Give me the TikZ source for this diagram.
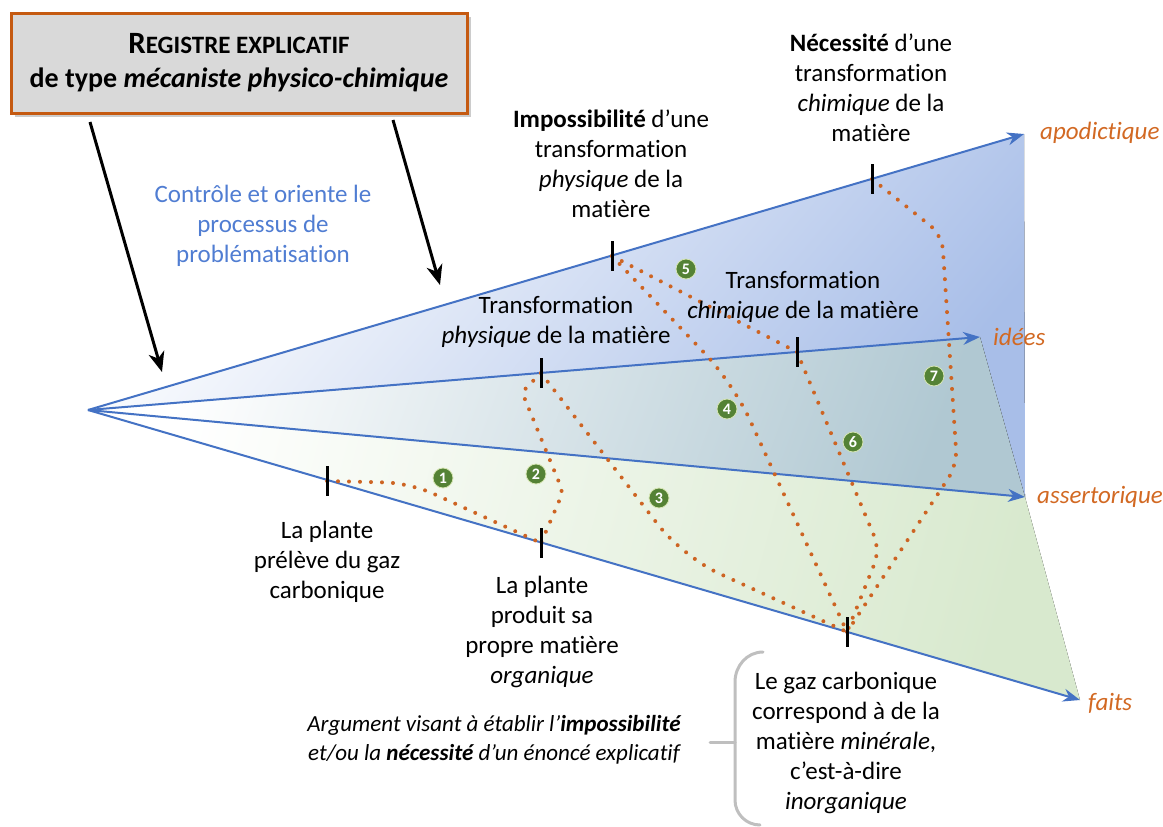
\documentclass[tikz,border=0pt]{standalone}
\usepackage{fontspec}
\setmainfont{Carlito}[Ligatures={TeX,NoCommon}]
\usetikzlibrary{arrows.meta,shadows,calc}
\definecolor{rayblue}{RGB}{68,114,196}
\definecolor{lblorange}{RGB}{210,105,35}
\definecolor{dotorange}{RGB}{205,100,35}
\definecolor{numgreen}{RGB}{84,130,53}
\definecolor{numrim}{RGB}{215,230,180}
\definecolor{boxorange}{RGB}{197,90,17}
\definecolor{boxgray}{RGB}{217,217,217}
\definecolor{shadeblue}{RGB}{168,190,232}
\definecolor{shadeteal}{RGB}{176,200,210}
\definecolor{shadegreen}{RGB}{216,233,206}
\definecolor{ctrlblue}{RGB}{80,125,210}
\definecolor{bracegray}{RGB}{191,191,191}
\tikzset{
  ray/.style={draw=rayblue, line width=2pt, -{Stealth[length=17pt,width=13pt]}},
  tickmark/.style={line width=3pt, black},
  dotpath/.style={dotorange, line width=4pt, line cap=round, dash pattern=on 0pt off 11pt},
  num/.style={circle, fill=numgreen, draw=numrim, line width=0.8pt, minimum size=20pt, inner sep=0pt,
    text=white, font=\bfseries\fontsize{16}{16}\selectfont},
  txt/.style={align=center, inner sep=0pt, font=\fontsize{25}{30}\selectfont},
  axlabel/.style={anchor=west, inner sep=0pt, text=lblorange, font=\fontsize{25}{28}\selectfont\itshape},
  bigarrow/.style={line width=3pt, black, -{Stealth[length=20pt,width=16pt,inset=6pt]}},
  bracestyle/.style={draw=bracegray, line width=3pt, line cap=round},
}
\begin{document}
\begin{tikzpicture}[x=1pt,y=-1pt]
\useasboundingbox (0,0) rectangle (1163,827);
% rays origin and tips
\coordinate (O) at (88,410);
\coordinate (Ap) at (1024,134);
\coordinate (Id) at (980,337);
\coordinate (As) at (1025,497);
\coordinate (Fa) at (1080,700);
% shaded areas
\fill[top color=white, bottom color=shadeblue, shading angle=50] (O) -- (Ap) -- (As) -- (Id) -- cycle;
\fill[top color=white, bottom color=shadeteal, shading angle=70] (O) -- (Id) -- (As) -- cycle;
\fill[top color=white, bottom color=shadegreen, shading angle=75] (O) -- (As) -- (Fa) -- cycle;
% rays
\draw[ray] (O) -- (Ap);
\draw[ray] (O) -- (Id);
\draw[ray] (O) -- (As);
\draw[ray] (O) -- (Fa);
% tick points
\coordinate (tA) at (327,481);
\coordinate (tB) at (541,543);
\coordinate (tC) at (847,632);
\coordinate (tD) at (541,373);
\coordinate (tE) at (797,352);
\coordinate (tF) at (612,256);
\coordinate (tG) at (872,179);
% dotted argument paths
\draw[dotpath, rounded corners=25pt] (tA) -- (410,483) -- (tB);
\draw[dotpath, rounded corners=6pt] (tD) -- (522,392) -- (563,492) -- (tB);
\draw[dotpath, rounded corners=40pt] (tD) -- (683,557) -- (tC);
\draw[dotpath, rounded corners=40pt] (tF) -- (733,383) -- (tC);
\draw[dotpath] (tF) -- (tE);
\draw[dotpath, rounded corners=15pt] (tE) -- (880,550) -- (tC);
\draw[dotpath, rounded corners=15pt] (tG) -- (942,235) -- (957,465) -- (tC);
% ticks
\foreach \p in {tA,tB,tC,tD,tE,tF,tG}
  \draw[tickmark] ($(\p)+(0,-15)$) -- ($(\p)+(0,15)$);
% numbers
\node[num] (n1) at (443,478) {1};
\node[num] (n2) at (536,474) {2};
\node[num] (n3) at (659,498) {3};
\node[num] (n4) at (727,409) {4};
\node[num] (n5) at (686,269) {5};
\node[num] (n6) at (853,442) {6};
\node[num] (n7) at (934,376) {7};
% axis labels
\node[axlabel] (lAp) at (1040,133) {apodictique};
\node[axlabel] (lId) at (993,337) {idées};
\node[axlabel] (lAs) at (1037,497) {assertorique};
\node[axlabel] (lFa) at (1088,703) {faits};
% statements
\node[txt] (imp) at (611,164) {\textbf{Impossibilité} d’une\\transformation\\\textit{physique} de la\\matière};
\node[txt] (nec) at (871,88) {\textbf{Nécessité} d’une\\transformation\\\textit{chimique} de la\\matière};
\node[txt] (tphy) at (556,322) {Transformation\\\textit{physique} de la matière};
\node[txt] (tchi) at (803,297) {Transformation\\\textit{chimique} de la matière};
\node[txt] (prel) at (327,562) {La plante\\prélève du gaz\\carbonique};
\node[txt] (prod) at (542,632) {La plante\\produit sa\\propre matière\\\textit{organique}};
\node[txt] (gaz) at (846,743) {Le gaz carbonique\\correspond à de la\\matière \textit{minérale},\\c’est-à-dire\\\textit{inorganique}};
\node[align=center, inner sep=0pt, font=\fontsize{23}{29}\selectfont\itshape] (arg) at (494,740)
  {Argument visant à établir l'\textbf{impossibilité}\\et/ou la \textbf{nécessité} d'un énoncé explicatif};
\node[txt, text=ctrlblue] (ctrl) at (263,226) {Contrôle et oriente le\\processus de\\problématisation};
% brace
\draw[bracestyle] (763,652) to[out=180,in=90] (735,682) -- (735,800) to[out=-90,in=180] (760,825);
\draw[bracestyle] (710,742) -- (735,742);
% title box
\node[draw=boxorange, line width=3pt, fill=boxgray, minimum width=456pt, minimum height=100pt,
  align=center, inner sep=0pt, font=\bfseries\fontsize{28}{34}\selectfont,
  drop shadow={shadow xshift=4pt, shadow yshift=-4pt, opacity=0.4}] (box) at (239,63)
  {{\fontsize{31}{34}\selectfont R}{\fontsize{25}{34}\selectfont EGISTRE EXPLICATIF}\\de type \textit{mécaniste physico-chimique}};
% control arrows
\coordinate (a1s) at (90,122);
\coordinate (a1e) at (162,372);
\coordinate (a2s) at (393,120);
\coordinate (a2e) at (440,285);
\draw[bigarrow] (a1s) -- (a1e);
\draw[bigarrow] (a2s) -- (a2e);
\end{tikzpicture}
\end{document}
